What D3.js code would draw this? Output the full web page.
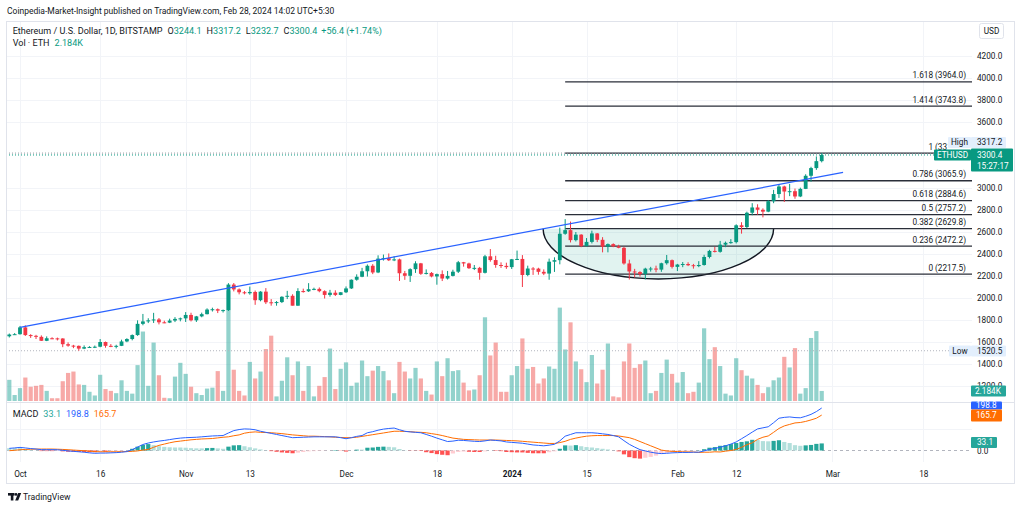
<!DOCTYPE html>
<html>
<head>
<meta charset="utf-8">
<script src="https://cdn.jsdelivr.net/npm/d3@7/dist/d3.min.js"></script>
<style>
html,body{margin:0;padding:0;background:#fff;}
svg{display:block;}
</style>
</head>
<body>
<svg id="chart" width="1024" height="509"></svg>
<script>
// ---------------- DATA ----------------
const startDay = "2023-09-29";
const opens = [1652,1668,1671,1733,1663,1656,1647,1611,1634,1633,
1632,1580,1567,1565,1540,1553,1555,1557,1600,1565,
1564,1565,1605,1627,1663,1765,1787,1797,1805,1779,
1776,1795,1810,1815,1846,1797,1833,1853,1895,1898,
1885,1890,2122,2078,2052,2043,2055,1980,2058,1961,
1958,1963,2011,2020,1930,2063,2061,2080,2083,2062,
2028,2048,2028,2052,2087,2166,2193,2243,2293,2232,
2358,2362,2343,2351,2225,2202,2262,2315,2220,2228,
2196,2217,2177,2201,2239,2325,2314,2271,2274,2229,
2379,2345,2300,2292,2281,2352,2355,2209,2268,2267,
2238,2222,2330,2344,2584,2617,2526,2576,2472,2510,
2587,2529,2467,2490,2469,2456,2314,2241,2236,2218,
2267,2268,2258,2316,2344,2283,2304,2309,2298,2290,
2300,2373,2428,2420,2485,2502,2508,2661,2645,2775,
2823,2802,2785,2880,2945,3014,2968,2971,2923,2992,
3111,3181,3244.1];
const highs = [1677,1681,1746,1751,1671,1665,1660,1651,1643,1640,
1634,1597,1574,1568,1569,1562,1568,1627,1604,1581,
1575,1621,1634,1669,1797,1855,1816,1865,1818,1794,
1812,1826,1822,1872,1866,1837,1867,1906,1912,1905,
1895,2135,2136,2087,2063,2104,2068,2062,2090,1990,
1972,2016,2065,2034,2089,2085,2135,2094,2096,2070,
2074,2070,2053,2105,2169,2215,2274,2305,2308,2388,
2395,2405,2380,2358,2246,2270,2334,2319,2260,2236,
2222,2251,2246,2257,2337,2328,2321,2300,2283,2392,
2445,2384,2324,2321,2355,2431,2390,2294,2281,2275,
2260,2358,2370,2640,2717,2695,2600,2580,2545,2612,
2590,2553,2496,2497,2484,2465,2348,2265,2244,2275,
2283,2294,2321,2391,2350,2310,2327,2325,2310,2335,
2393,2438,2464,2519,2513,2535,2670,2689,2785,2862,
2852,2815,2890,2983,3033,3021,3037,2995,3003,3125,
3193,3287,3317.2];
const lows = [1641,1665,1667,1655,1637,1627,1609,1608,1626,1614,
1553,1557,1544,1520.5,1535,1546,1545,1552,1548,1553,
1542,1563,1598,1615,1656,1752,1772,1773,1760,1771,
1772,1781,1788,1782,1787,1782,1825,1851,1877,1863,
1868,1882,2060,2033,2033,2030,1938,1970,1945,1930,
1930,1954,1990,1932,1929,2049,2055,2071,2052,1995,
2012,2018,2025,2045,2082,2157,2189,2195,2217,2226,
2340,2336,2335,2155,2165,2146,2228,2210,2214,2188,
2121,2154,2168,2196,2227,2285,2264,2254,2166,2223,
2330,2275,2273,2265,2264,2345,2100,2198,2210,2212,
2208,2166,2237,2306,2575,2505,2514,2462,2468,2496,
2508,2415,2415,2462,2452,2303,2168,2187,2195,2169,
2240,2234,2238,2303,2268,2245,2280,2290,2267,2280,
2294,2360,2414,2412,2462,2493,2496,2585,2636,2752,
2757,2733,2780,2862,2910,2873,2926,2902,2917,2990,
3057,3165,3232.7];
const closes = [1668,1671,1733,1663,1656,1647,1611,1634,1633,1632,
1580,1567,1565,1540,1553,1555,1557,1600,1565,1564,
1565,1605,1627,1663,1765,1787,1797,1805,1779,1776,
1795,1810,1815,1846,1797,1833,1853,1895,1898,1885,
1890,2122,2078,2052,2043,2055,1980,2058,1961,1958,
1963,2011,2020,1930,2063,2061,2080,2083,2062,2028,
2048,2028,2052,2087,2166,2193,2243,2293,2232,2358,
2362,2343,2351,2225,2202,2262,2315,2220,2228,2196,
2217,2177,2201,2239,2325,2314,2271,2274,2229,2379,
2345,2300,2292,2281,2352,2355,2209,2268,2267,2238,
2222,2330,2344,2584,2617,2526,2576,2472,2510,2587,
2529,2467,2490,2469,2456,2314,2241,2236,2218,2267,
2268,2258,2316,2344,2283,2304,2309,2298,2290,2300,
2373,2428,2420,2485,2502,2508,2661,2645,2775,2823,
2802,2785,2880,2945,3014,2968,2971,2923,2992,3111,
3181,3244.1,3300.4];
// volume in thousands of ETH
const volumes = [4.6,1.3,2.8,5.1,3.1,3.3,3.5,2.2,0.6,0.6,
4.3,6.1,6.4,3.6,3.5,2.0,1.2,5.7,2.6,2.2,
1.7,4.5,2.2,1.6,7.8,15.1,3.3,12.7,5.6,0.7,
0.6,5.3,8.3,5.9,3.1,1.7,1.3,2.7,2.9,6.5,
2.2,24.0,6.8,2.2,1.2,8.5,4.9,6.4,11.3,14.2,
1.0,4.4,9.5,5.6,8.6,2.2,7.6,1.0,3.3,5.2,
11.4,2.6,7.0,8.4,3.3,4.0,8.8,5.4,6.6,7.6,
6.5,4.5,1.7,8.5,6.4,4.9,7.2,4.9,2.2,1.4,
8.6,5.4,9.3,6.5,6.7,4.0,2.3,2.5,5.6,18.2,
9.9,12.7,2.0,2.0,5.6,7.6,13.6,7.0,7.4,3.8,
4.9,7.5,7.0,20.3,11.2,17.1,8.6,6.9,4.1,10.0,
3.8,6.8,12.5,1.0,0.8,8.6,12.5,7.2,8.0,8.8,
1.7,2.2,6.1,9.0,5.9,4.0,6.3,1.7,2.0,4.0,
15.8,9.1,11.7,7.6,1.6,1.2,9.3,6.7,5.5,4.9,
3.5,1.7,3.0,4.5,5.1,9.6,7.3,11.5,1.6,2.8,
13.7,15.2,2.184];
const macdLine = [10,12,14.5,12,9,7,4,4,4,3.6,
1,-2,-4,-6,-8,-11,-13,-12,-12,-11,
-10,-8,-5,4,16,28,35,40,44,47,
51,55,58,60,61,62,64,66,68,69,
70,82,93,98,101,100,97,90,85,80,
75,70,65,60,61,62,63,64,64,64,
64,64,60,55,60,66,70,83,88,95,
100,103,105,97,90,87,85,83,75,67,
58,50,42,44,48,47,45,43,42,45,
49,47,45,40,38,36,34,30,26,24,
22,25,29,45,67,75,83,83,83,83,
81,78,75,70,64,46,29,16,4,-2,
-8,-12,-14.5,-13,-11,-10,-9,-9,-8,-8,
-2,5,10,15,22,30,40,55,70,86,
101,106,111,130,151,155,157,154,153,160,
169,182,198.8];
const signalLine = [-1,1,3.6,5,6,6.5,6.8,6.8,6.8,6,
5,3.6,2,0.5,-1,-3,-5,-6,-6,-6,
-6,-5.5,-5,-4,-2,2,5,15,24,30,
36,41,44,47,50,52,54,55,56,59,
62,64,69,73,81,85,87,85,84,83,
81,79,76,73,71,69,67,67,66,65,
64,62,61,60,60,62,66,70,74,78,
82,86,90,90,89,88,86,85,83,79,
75,70,64,58,55,52,51,50,49,49,
49,49,48,47,46,45,43,41,39,37,
35,33,33,37,43,52,58,63,67,69,
70,70,70,70,68,64,60,52,42,32,
22,12,2,-2,-4,-5,-6,-6.5,-7,-9,
-8,-8,-6,-7,-3,0,5,15,27,36,
52,62,68,85,103,115,122,129,131,136,
143,151,165.7];
const histogram = [11,11,11,7,3,0.5,-2.8,-2.8,-2.8,-2.4,
-4,-5.6,-6,-6.5,-7,-8,-8,-6,-6,-5,
-4,-2.5,0,8,18,26,30,25,20,17,
15,14,14,13,11,10,10,11,12,10,
8,18,24,25,20,15,10,5,1,-3,
-6,-9,-11,-13,-10,-7,-4,-3,-2,-1,
0,2,-1,-5,0,4,4,13,14,17,
18,17,15,7,1,-1,-1,-2,-8,-12,
-17,-20,-22,-14,-7,-5,-6,-7,-7,-4,
0,-2,-3,-7,-8,-9,-9,-11,-13,-13,
-13,-8,-4,8,24,23,25,20,16,14,
11,8,5,0,-4,-18,-31,-36,-38,-34,
-30,-24,-16.5,-11,-7,-5,-3,-2.5,-1,1,
6,13,16,22,25,30,35,40,43,50,
49,44,43,45,48,40,35,25,22,24,
26,31,33.1];

const priceTicks = [1200,1400,1600,1800,2000,2200,2400,2600,2800,3000,3600,3800,4000,4200];
const xTickDates = ["2023-10-01","2023-10-16","2023-11-01","2023-11-13","2023-12-01","2023-12-18","2024-01-01","2024-01-15","2024-02-01","2024-02-12","2024-03-01","2024-03-18"];
const xTickLabels = ["Oct","16","Nov","13","Dec","18","2024","15","Feb","12","Mar","18"];

const fibLevels = ["0","0.236","0.382","0.5","0.618","0.786","1","1.414","1.618"];
const fibPrices = [2217.5,2472.2,2629.8,2757.2,2884.6,3065.9,3317.2,3743.8,3964.0];
const fibStart = "2024-01-11";

const trendStart = {date:"2023-10-01T00:00", price:1733};
const trendEnd   = {date:"2024-03-03T00:00", price:3142};

const arcLeft  = {date:"2024-01-06T21:00", price:2630};
const arcRight = {date:"2024-02-19T00:00", price:2630};
const arcBottomPrice = 2173;

const headerText = "Coinpedia-Market-Insight published on TradingView.com, Feb 28, 2024 14:02 UTC+5:30";
const symbolTitle = "Ethereum / U.S. Dollar, 1D, BITSTAMP";
const ohlcLabels = [["O","3244.1"],["H","3317.2"],["L","3232.7"],["C","3300.4"]];
const changeText = "+56.4 (+1.74%)";
const volLabel = "Vol · ETH";
const volValue = "2.184K";
const lastPrice = 3300.4, highPrice = 3317.2, lowPrice = 1520.5;
const countdown = "15:27:17";
const macdLegend = ["MACD","33.1","198.8","165.7"];

// ---------------- SETUP ----------------
const FONT = "Roboto, 'Liberation Sans', Arial, sans-serif";
const svg = d3.select("#chart").attr("font-family", FONT);
const TXT = "#131722", UP = "#089981", DN = "#f23645";

const parse = d3.utcParse("%Y-%m-%d");
const parseT = d3.utcParse("%Y-%m-%dT%H:%M");
const t0 = parse(startDay);
const bars = closes.map((c, i) => ({
  d: d3.utcDay.offset(t0, i), o: opens[i], h: highs[i], l: lows[i], c,
  v: volumes[i], m: macdLine[i], s: signalLine[i], hist: histogram[i]
}));

const L = 6, R = 1015, PR = 972, T = 21, MAINB = 402, MACDB = 462, B = 484;

const x = d3.scaleUtc().domain([parse("2023-09-29"), parse("2024-03-01")]).range([9.3, 832.4]);
const y = d3.scaleLinear().domain([2200, 4000]).range([276, 78]);
const vy = d3.scaleLinear().domain([0, 25]).range([401, 286]);
const my = d3.scaleLinear().domain([0, 198.8]).range([450.5, 408]);

function measure(str, size, weight) {
  const t = svg.append("text").attr("font-size", size).attr("font-weight", weight || 400).text(str);
  const w = t.node().getComputedTextLength(); t.remove(); return w;
}
const FS = 10 * 25.3 / measure("4200.0", 10);

// clip paths
const defs = svg.append("defs");
defs.append("clipPath").attr("id", "mainClip").append("rect").attr("x", L).attr("y", T).attr("width", PR - L).attr("height", MAINB - T);
defs.append("clipPath").attr("id", "macdClip").append("rect").attr("x", L).attr("y", MAINB + 1).attr("width", PR - L).attr("height", MACDB - MAINB - 1);
defs.append("clipPath").attr("id", "fibHighClip").append("rect").attr("x", 900).attr("y", 120).attr("width", 47.5).attr("height", 40);
// local coordinates of the 1200 tick group (origin at the tick)
defs.append("clipPath").attr("id", "volTickClip").append("rect").attr("x", -6).attr("y", -15).attr("width", 40).attr("height", 14.5);

// ---------------- GRID ----------------
const grid = svg.append("g").attr("stroke", "#f2f4f8").attr("stroke-width", 1);
priceTicks.forEach(p => {
  const yy = Math.round(y(p)) + 0.5;
  grid.append("line").attr("x1", L).attr("x2", PR).attr("y1", yy).attr("y2", yy);
});
xTickDates.forEach(ds => {
  const xx = Math.round(x(parse(ds))) + 0.5;
  grid.append("line").attr("x1", xx).attr("x2", xx).attr("y1", T).attr("y2", MACDB);
});
[100].forEach(v => {
  const yy = Math.round(my(v)) + 0.5;
  grid.append("line").attr("x1", L).attr("x2", PR).attr("y1", yy).attr("y2", yy);
});

// ---------------- MAIN PANE ----------------
const main = svg.append("g").attr("clip-path", "url(#mainClip)");

// volume
main.append("g").selectAll("rect").data(bars).join("rect")
  .attr("x", d => x(d.d) - 2.1).attr("width", 4.2)
  .attr("y", d => vy(d.v)).attr("height", d => vy(0) - vy(d.v))
  .attr("fill", d => d.c >= d.o ? "rgba(38,166,154,0.5)" : "rgba(239,83,80,0.5)");

// low dotted line
main.append("line").attr("x1", L).attr("x2", PR).attr("y1", y(lowPrice)).attr("y2", y(lowPrice))
  .attr("stroke", "#b2b5be").attr("stroke-dasharray", "1,2");

// cup arc
{
  const xl = x(parseT(arcLeft.date)), xr = x(parseT(arcRight.date));
  const yt = y(arcLeft.price), yb = y(arcBottomPrice);
  const rx = (xr - xl) / 2, ry = yb - yt;
  main.append("path")
    .attr("d", `M${xl},${yt} A${rx},${ry} 0 0 0 ${xr},${yt} Z`)
    .attr("fill", "rgba(8,153,129,0.12)").attr("stroke", "none");
  main.append("path")
    .attr("d", `M${xl},${yt} A${rx},${ry} 0 0 0 ${xr},${yt}`)
    .attr("fill", "none").attr("stroke", "#131722").attr("stroke-width", 1.4);
}

// fib lines
const fibG = main.append("g");
fibPrices.forEach((p, i) => {
  fibG.append("line").attr("x1", x(parse(fibStart))).attr("x2", PR)
    .attr("y1", y(p)).attr("y2", y(p)).attr("stroke", "#2a2e39").attr("stroke-width", 1.3);
});

// high / last price dotted
main.append("line").attr("x1", L).attr("x2", PR).attr("y1", y(highPrice)).attr("y2", y(highPrice))
  .attr("stroke", "#9598a1").attr("stroke-dasharray", "1,2");
main.append("line").attr("x1", L).attr("x2", PR).attr("y1", y(lastPrice)).attr("y2", y(lastPrice))
  .attr("stroke", UP).attr("stroke-dasharray", "1,2");

// candles
const cg = main.append("g");
cg.selectAll("line").data(bars).join("line")
  .attr("x1", d => x(d.d)).attr("x2", d => x(d.d))
  .attr("y1", d => y(d.h)).attr("y2", d => y(d.l))
  .attr("stroke", d => d.c >= d.o ? UP : DN).attr("stroke-width", 1);
cg.selectAll("rect").data(bars).join("rect")
  .attr("x", d => x(d.d) - 1.9).attr("width", 3.8)
  .attr("y", d => y(Math.max(d.o, d.c)))
  .attr("height", d => Math.max(1, Math.abs(y(d.o) - y(d.c))))
  .attr("fill", d => d.c >= d.o ? UP : DN);

// trend line
main.append("line")
  .attr("x1", x(parseT(trendStart.date))).attr("y1", y(trendStart.price))
  .attr("x2", x(parseT(trendEnd.date))).attr("y2", y(trendEnd.price))
  .attr("stroke", "#2962ff").attr("stroke-width", 1.2);

// fib labels
fibPrices.forEach((p, i) => {
  const t = svg.append("text").attr("x", 966).attr("y", y(p) - 3.5).attr("text-anchor", "end")
    .attr("font-size", FS).attr("fill", TXT).text(`${fibLevels[i]} (${p.toFixed(1)})`);
  if (fibLevels[i] === "1") t.attr("clip-path", "url(#fibHighClip)");
});

// ---------------- MACD PANE ----------------
const mg = svg.append("g").attr("clip-path", "url(#macdClip)");
mg.append("line").attr("x1", L).attr("x2", PR).attr("y1", my(0)).attr("y2", my(0))
  .attr("stroke", "#b2b5be").attr("stroke-dasharray", "3,3");
mg.append("g").selectAll("rect").data(bars).join("rect")
  .attr("x", d => x(d.d) - 2.1).attr("width", 4.2)
  .attr("y", d => Math.min(my(d.hist), my(0)))
  .attr("height", d => Math.abs(my(d.hist) - my(0)))
  .attr("fill", (d, i) => {
    const prev = i > 0 ? bars[i - 1].hist : d.hist;
    if (d.hist >= 0) return prev < d.hist ? "#26a69a" : "#b2dfdb";
    return prev < d.hist ? "#ffcdd2" : "#ff5252";
  });
mg.append("path").datum(bars).attr("fill", "none").attr("stroke", "#ff6d00").attr("stroke-width", 1)
  .attr("d", d3.line().x(d => x(d.d)).y(d => my(d.s)));
mg.append("path").datum(bars).attr("fill", "none").attr("stroke", "#2962ff").attr("stroke-width", 1)
  .attr("d", d3.line().x(d => x(d.d)).y(d => my(d.m)));

// ---------------- FRAME ----------------
svg.append("rect").attr("x", L + 0.5).attr("y", T + 0.5).attr("width", R - L - 1).attr("height", B - T - 1)
  .attr("fill", "none").attr("stroke", "#e0e3eb");
svg.append("line").attr("x1", L).attr("x2", R).attr("y1", MAINB + 0.5).attr("y2", MAINB + 0.5).attr("stroke", "#e0e3eb");

// ---------------- AXES ----------------
const yAxis = d3.axisRight(y).tickValues(priceTicks).tickSize(0).tickPadding(0).tickFormat(d => d.toFixed(1));
const ya = svg.append("g").attr("transform", `translate(977,0)`).call(yAxis);
ya.select(".domain").remove();
ya.selectAll("text").attr("font-size", FS).attr("fill", TXT).attr("font-family", FONT);
ya.selectAll(".tick").filter(d => d === 1200).select("text").attr("clip-path", "url(#volTickClip)");

const mAxis = d3.axisRight(my).tickValues([0]).tickSize(0).tickPadding(0).tickFormat(d => d.toFixed(1));
const ma = svg.append("g").attr("transform", `translate(977,0)`).call(mAxis);
ma.select(".domain").remove();
ma.selectAll("text").attr("font-size", FS).attr("fill", TXT).attr("font-family", FONT);

const xAxis = d3.axisBottom(x).tickValues(xTickDates.map(parse)).tickSize(0).tickPadding(0)
  .tickFormat((d, i) => xTickLabels[i]);
const xa = svg.append("g").attr("transform", `translate(0,471)`).call(xAxis);
xa.select(".domain").remove();
xa.selectAll("text").attr("font-size", FS).attr("fill", TXT).attr("font-family", FONT)
  .attr("font-weight", (d, i) => xTickLabels[i] === "2024" ? 700 : 400);

// ---------------- LABEL BOXES ----------------
function box(x0, y0, w, h, fill, color, str, anchor, tx, fs) {
  svg.append("rect").attr("x", x0).attr("y", y0).attr("width", w).attr("height", h).attr("fill", fill).attr("rx", 1);
  if (str !== null) svg.append("text").attr("x", tx).attr("y", y0 + h / 2 + FS * 0.36).attr("text-anchor", anchor || "start")
    .attr("font-size", fs || FS).attr("fill", color).text(str);
}
box(948, 137, 23, 11, "#e3effd", TXT, "High", "middle", 959.5);
box(971, 137, 35, 11, "#e3effd", TXT, highPrice.toFixed(1), "start", 977);
box(934, 149.5, 37, 11, UP, "#fff", "ETHUSD", "middle", 952.5);
box(971, 148.5, 42, 23, UP, "#fff", null);
svg.append("text").attr("x", 977).attr("y", 158).attr("font-size", FS).attr("fill", "#fff").text(lastPrice.toFixed(1));
svg.append("text").attr("x", 977).attr("y", 168.5).attr("font-size", FS).attr("fill", "#fff").text(countdown);
box(949, 345.5, 22, 11, "#e3effd", TXT, "Low", "middle", 960);
box(971, 345.5, 35, 11, "#e3effd", TXT, lowPrice.toFixed(1), "start", 977);
box(971, 385.5, 35, 11, "#26a69a", "#fff", volValue, "start", 975);
box(971, 401.5, 31, 8, "#2962ff", "#fff", macdLegend[2], "start", 976);
box(971, 409.5, 31, 12, "#ff6d00", "#fff", macdLegend[3], "start", 976);
box(971, 437, 26, 11, "#26a69a", "#fff", macdLegend[1], "start", 977);

// USD box
svg.append("rect").attr("x", 979.5).attr("y", 23.5).attr("width", 24).attr("height", 15).attr("rx", 2)
  .attr("fill", "#fff").attr("stroke", "#e0e3eb");
svg.append("text").attr("x", 991.5).attr("y", 34).attr("text-anchor", "middle").attr("font-size", FS).attr("fill", TXT).text("USD");

// ---------------- TEXTS ----------------
const hdr = svg.append("text").attr("x", 7).attr("y", 14).attr("font-size", 10).attr("fill", TXT).text(headerText);
hdr.attr("font-size", 10 * 328 / hdr.node().getComputedTextLength());

const leg1 = svg.append("text").attr("x", 12.7).attr("y", 33.7).attr("font-size", 10).attr("fill", TXT);
leg1.append("tspan").text(symbolTitle);
ohlcLabels.forEach(([k, v], i) => {
  leg1.append("tspan").attr("dx", 5).attr("fill", TXT).text(k);
  leg1.append("tspan").attr("fill", UP).text(v);
});
leg1.append("tspan").attr("dx", 4).attr("fill", UP).text(changeText);
leg1.attr("font-size", 10 * 345.6 / leg1.node().getComputedTextLength());

const legFS = +leg1.attr("font-size");
const leg2 = svg.append("text").attr("x", 12.7).attr("y", 45.7).attr("font-size", legFS).attr("fill", TXT);
leg2.append("tspan").text(volLabel);
leg2.append("tspan").attr("dx", 5).attr("fill", UP).text(volValue);

const leg3 = svg.append("text").attr("x", 12.7).attr("y", 417).attr("font-size", legFS).attr("fill", TXT);
leg3.append("tspan").text(macdLegend[0]);
leg3.append("tspan").attr("dx", 5).attr("fill", "#26a69a").text(macdLegend[1]);
leg3.append("tspan").attr("dx", 5).attr("fill", "#2962ff").text(macdLegend[2]);
leg3.append("tspan").attr("dx", 5).attr("fill", "#ff6d00").text(macdLegend[3]);

// TradingView logo
const logo = svg.append("g").attr("fill", TXT);
logo.append("rect").attr("x", 8).attr("y", 493).attr("width", 6.5).attr("height", 2.6);
logo.append("rect").attr("x", 10.8).attr("y", 493).attr("width", 2.6).attr("height", 7.5);
logo.append("circle").attr("cx", 16).attr("cy", 494.4).attr("r", 1.4);
logo.append("path").attr("d", "M18.2,493 L21.2,493 L18.2,500.5 L15.2,500.5 Z");
svg.append("text").attr("x", 23).attr("y", 500).attr("font-size", FS * 1.05).attr("fill", TXT).text("TradingView");
</script>
</body>
</html>
